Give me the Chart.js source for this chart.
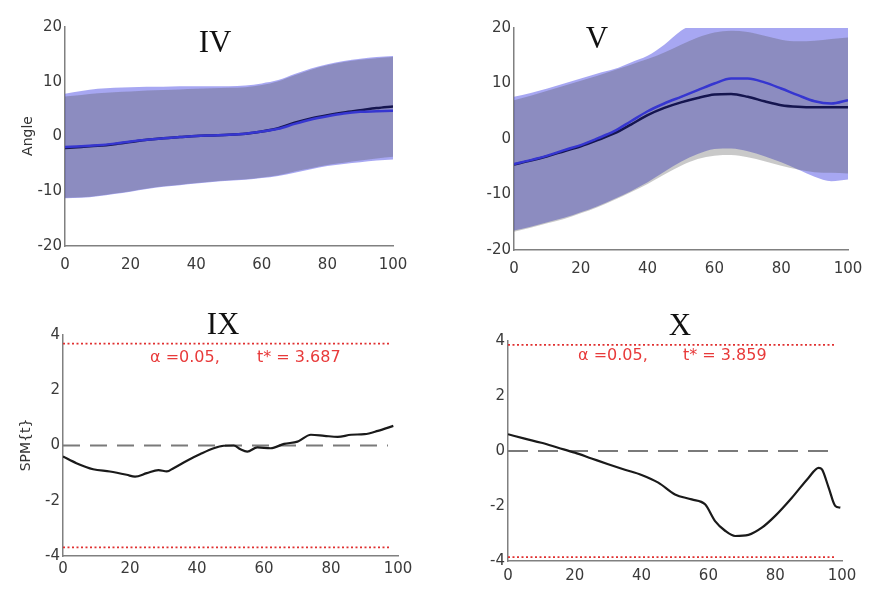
<!DOCTYPE html>
<html lang="en">
<head>
<meta charset="UTF-8">
<title>SPM panels</title>
<style>
  body { margin: 0; background: #fff; }
  #wrap { position: relative; width: 888px; height: 597px; }
  #wrap canvas { position: absolute; }
</style>
</head>
<body>
<script src="https://cdn.jsdelivr.net/npm/chart.js@4.4.0/dist/chart.umd.min.js"></script>

<div id="wrap">
    <canvas id="chartIV" width="444" height="290" style="left:0;top:0"></canvas>
    <canvas id="chartV" width="444" height="290" style="left:444px;top:0"></canvas>
    <canvas id="chartIX" width="444" height="307" style="left:0;top:290px"></canvas>
    <canvas id="chartX" width="444" height="307" style="left:444px;top:290px"></canvas>
</div>

<script>
    // ---- data ----
    var bandX = [0, 5, 10, 15, 20, 25, 30, 35, 40, 45, 50, 55, 60, 65, 70, 75, 80, 85, 90, 95, 100];

    var ivBlackMean = [-2.1, -1.9, -1.7, -1.4, -1.0, -0.6, -0.3, -0.1, 0.1, 0.2, 0.3, 0.5, 0.9, 1.5, 2.5, 3.3, 3.9, 4.4, 4.8, 5.2, 5.5];
    var ivBlueMean  = [-1.9, -1.8, -1.6, -1.3, -0.9, -0.6, -0.3, -0.1, 0.1, 0.2, 0.3, 0.5, 0.9, 1.4, 2.3, 3.1, 3.7, 4.2, 4.5, 4.6, 4.7];
    var ivBlueUpper = [7.8, 8.3, 8.7, 8.9, 9.0, 9.1, 9.1, 9.2, 9.2, 9.2, 9.2, 9.3, 9.7, 10.3, 11.4, 12.4, 13.2, 13.8, 14.2, 14.5, 14.7];
    var ivBlueLower = [-11.3, -11.2, -10.9, -10.5, -10.1, -9.6, -9.2, -8.9, -8.6, -8.3, -8.1, -7.9, -7.6, -7.2, -6.6, -6.0, -5.4, -5.0, -4.7, -4.4, -4.2];
    var ivGrayUpper = [7.3, 7.6, 7.9, 8.1, 8.2, 8.4, 8.5, 8.6, 8.7, 8.8, 8.9, 9.0, 9.4, 10.1, 11.2, 12.2, 13.0, 13.6, 14.0, 14.3, 14.5];
    var ivGrayLower = [-11.2, -11.1, -10.8, -10.4, -10.0, -9.5, -9.1, -8.8, -8.5, -8.2, -8.0, -7.8, -7.5, -7.1, -6.4, -5.8, -5.2, -4.8, -4.4, -4.0, -3.7];

    var vBlackMean = [-4.6, -3.9, -3.1, -2.2, -1.3, -0.2, 1.0, 2.6, 4.3, 5.6, 6.6, 7.4, 8.0, 8.1, 7.6, 6.8, 6.1, 5.8, 5.7, 5.7, 5.7];
    var vBlueMean  = [-4.5, -3.8, -3.0, -2.0, -1.1, 0.1, 1.4, 3.2, 5.0, 6.4, 7.6, 8.8, 10.0, 10.9, 10.9, 10.2, 9.1, 7.9, 6.8, 6.4, 7.0];
    var vBlueUpper = [7.6, 8.3, 9.1, 10.0, 10.9, 11.8, 12.6, 13.8, 15.0, 17.0, 19.5, 21, 22, 22, 22, 21.5, 21, 21, 21.5, 21.5, 21.5];
    var vBlueLower = [-16.5, -15.8, -15.0, -14.2, -13.2, -12.1, -10.8, -9.4, -7.8, -5.9, -4.1, -2.7, -1.8, -1.7, -2.2, -3.1, -4.2, -5.5, -6.8, -7.6, -7.3];
    var vGrayUpper = [7.0, 7.8, 8.7, 9.6, 10.5, 11.4, 12.4, 13.4, 14.4, 15.6, 17.0, 18.3, 19.2, 19.5, 19.3, 18.6, 17.9, 17.6, 17.7, 18.0, 18.3];
    var vGrayLower = [-16.7, -16.0, -15.2, -14.4, -13.4, -12.3, -11.0, -9.6, -8.1, -6.4, -4.8, -3.6, -3.0, -2.9, -3.3, -4.0, -4.8, -5.5, -6.0, -6.1, -6.2];

    var ixX = [0, 4, 9, 14, 19, 21.5, 25, 28.5, 31, 33, 37, 41, 45, 48, 51, 53, 55, 58, 62, 66, 70, 74, 78, 82, 86, 90, 94, 98.6];
    var ixT = [-0.4, -0.64, -0.86, -0.94, -1.06, -1.13, -1.0, -0.89, -0.94, -0.82, -0.55, -0.31, -0.1, -0.01, 0, -0.14, -0.22, -0.07, -0.1, 0.06, 0.14, 0.39, 0.35, 0.31, 0.39, 0.41, 0.53, 0.71];
    var ixCrit = 3.687;

    var xX = [0, 5, 10, 15, 20, 25, 30, 35, 40, 45, 50, 55, 59, 62, 65, 68, 72, 76, 80, 85, 90, 93, 94, 96, 98, 99.5];
    var xT = [0.61, 0.45, 0.3, 0.12, -0.06, -0.27, -0.48, -0.68, -0.87, -1.15, -1.58, -1.76, -1.94, -2.55, -2.9, -3.09, -3.05, -2.79, -2.36, -1.7, -0.97, -0.61, -0.67, -1.33, -2.0, -2.06];
    var xCrit = 3.859;

    var refLineX = [0, 97];
    var critLineX = [0, 98];

    // ---- styles ----
    var blueFill = 'rgba(80, 80, 230, 0.5)';
    var grayFill = 'rgba(80, 80, 80, 0.31)';
    var blueLine = '#3636d0';
    var darkLine = '#15154f';
    var axisColor = '#808080';
    var tickColor = '#3a3a3a';
    var tickFont = {family: 'DejaVu Sans', size: 15};
    var redText = '#e83a3a';

    function pts(xs, ys) {
        return xs.map((x, i) => ({x: x, y: ys[i]}));
    }

    function flat(xs, v) {
        return xs.map(x => ({x: x, y: v}));
    }

    var textPlugin = {
        id: 'panelText',
        afterDraw(chart, args, opts) {
            let ctx = chart.ctx;
            (opts.items || []).forEach(t => {
                ctx.save();
                ctx.font = t.font;
                ctx.fillStyle = t.color;
                ctx.textAlign = t.align || 'center';
                ctx.textBaseline = 'middle';
                ctx.translate(t.x, t.y);
                if (t.rotate) ctx.rotate(t.rotate);
                ctx.fillText(t.text, 0, 0);
                ctx.restore();
            });
        }
    };

    function lineSet(data, color, width, dash) {
        return {
            data: data, borderColor: color, borderWidth: width, borderDash: dash || [],
            pointRadius: 0, fill: false, tension: 0.4, cubicInterpolationMode: 'monotone'
        };
    }

    function bandSet(data, color, fillTo) {
        return {
            data: data, borderWidth: 0, borderColor: 'rgba(0,0,0,0)', backgroundColor: color,
            pointRadius: 0, fill: fillTo, tension: 0.4, cubicInterpolationMode: 'monotone'
        };
    }

    function makeChart(id, datasets, yMin, yMax, yStep, xPad, padding, items) {
        let ctx = document.getElementById(id).getContext('2d');
        return new Chart(ctx, {
            type: 'line',
            data: {datasets: datasets},
            plugins: [textPlugin],
            options: {
                responsive: false,
                animation: false,
                layout: {padding: padding},
                plugins: {
                    legend: {display: false},
                    tooltip: {enabled: false},
                    panelText: {items: items}
                },
                scales: {
                    x: {
                        type: 'linear', min: 0, max: 100,
                        ticks: {stepSize: 20, color: tickColor, font: tickFont, padding: xPad, maxRotation: 0},
                        grid: {display: false, drawTicks: false},
                        border: {color: axisColor, width: 1.5},
                        afterFit: s => { s.height = 30; }
                    },
                    y: {
                        type: 'linear', min: yMin, max: yMax,
                        ticks: {stepSize: yStep, color: tickColor, font: tickFont, padding: 3},
                        grid: {display: false, drawTicks: false},
                        border: {color: axisColor, width: 1.5},
                        afterFit: s => { s.width = 40; }
                    }
                }
            }
        });
    }

    var titleFont = '31px "Liberation Serif"';
    var labelFont = '14px "DejaVu Sans"';
    var alphaFont = '16px "DejaVu Sans"';

    // IV
    makeChart('chartIV', [
        lineSet(pts(bandX, ivBlueMean), blueLine, 2.5),
        lineSet(pts(bandX, ivBlackMean), darkLine, 2.5),
        bandSet(pts(bandX, ivGrayUpper), grayFill, '+1'),
        bandSet(pts(bandX, ivGrayLower), grayFill, false),
        bandSet(pts(bandX, ivBlueUpper), blueFill, '+1'),
        bandSet(pts(bandX, ivBlueLower), blueFill, false)
    ], -20, 20, 10, 10, {left: 25, right: 51, top: 27, bottom: 14}, [
        {text: 'IV', x: 215, y: 44, font: titleFont, color: '#111'},
        {text: 'Angle', x: 28, y: 136, font: labelFont, color: '#333', rotate: -Math.PI / 2}
    ]);

    // V
    makeChart('chartV', [
        lineSet(pts(bandX, vBlueMean), blueLine, 2.5),
        lineSet(pts(bandX, vBlackMean), darkLine, 2.5),
        bandSet(pts(bandX, vGrayUpper), grayFill, '+1'),
        bandSet(pts(bandX, vGrayLower), grayFill, false),
        bandSet(pts(bandX, vBlueUpper), blueFill, '+1'),
        bandSet(pts(bandX, vBlueLower), blueFill, false)
    ], -20, 20, 10, 10, {left: 30, right: 40, top: 28, bottom: 10}, [
        {text: 'V', x: 153, y: 40, font: titleFont, color: '#111'}
    ]);

    // IX
    makeChart('chartIX', [
        lineSet(pts(ixX, ixT), '#1a1a1a', 2.2),
        lineSet(flat(refLineX, 0), '#7a7a7a', 2, [17, 10]),
        lineSet(flat(critLineX, ixCrit), '#e03030', 1.6, [2, 2.5]),
        lineSet(flat(critLineX, -ixCrit), '#e03030', 1.6, [2, 2.5])
    ], -4, 4, 2, 4, {left: 23, right: 46, top: 45, bottom: 11}, [
        {text: 'IX', x: 223, y: 36, font: titleFont, color: '#111'},
        {text: 'SPM{t}', x: 26, y: 155, font: labelFont, color: '#333', rotate: -Math.PI / 2},
        {text: '\u03b1 =0.05,', x: 150, y: 68, font: alphaFont, color: redText, align: 'left'},
        {text: 't* = 3.687', x: 257, y: 68, font: alphaFont, color: redText, align: 'left'}
    ]);

    // X
    makeChart('chartX', [
        lineSet(pts(xX, xT), '#1a1a1a', 2.2),
        lineSet(flat(refLineX, 0), '#7a7a7a', 2, [20, 10]),
        lineSet(flat(critLineX, xCrit), '#e03030', 1.6, [2, 2.5]),
        lineSet(flat(critLineX, -xCrit), '#e03030', 1.6, [2, 2.5])
    ], -4, 4, 2, 6, {left: 24, right: 46, top: 51, bottom: 6}, [
        {text: 'X', x: 236, y: 37, font: titleFont, color: '#111'},
        {text: '\u03b1 =0.05,', x: 134, y: 66, font: alphaFont, color: redText, align: 'left'},
        {text: 't* = 3.859', x: 239, y: 66, font: alphaFont, color: redText, align: 'left'}
    ]);
</script>
</body>
</html>
